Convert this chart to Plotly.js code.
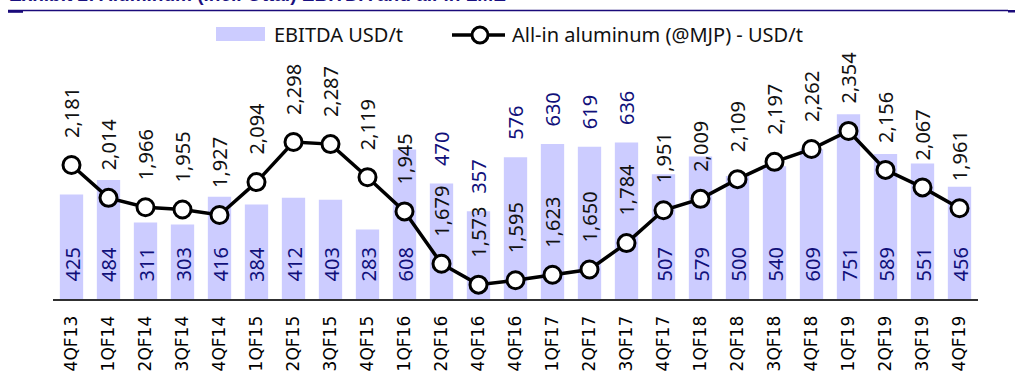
<!DOCTYPE html>
<html>
<head>
<meta charset="utf-8">
<script src="https://cdn.plot.ly/plotly-3.0.1.min.js"></script>
<style>
  html, body { margin: 0; padding: 0; background: #ffffff; }
  #chart { width: 1015px; height: 386px; }
</style>
</head>
<body>
<div id="chart"></div>
<script>
// Quarterly aluminium segment figures
const quarters = ['4QF13', '1QF14', '2QF14', '3QF14', '4QF14', '1QF15', '2QF15', '3QF15', '4QF15',
                  '1QF16', '2QF16', '4QF16', '4QF16', '1QF17', '2QF17', '3QF17', '4QF17',
                  '1QF18', '2QF18', '3QF18', '4QF18', '1QF19', '2QF19', '3QF19', '4QF19'];
const ebitdaPerTonne = [425, 484, 311, 303, 416, 384, 412, 403, 283, 608, 470, 357, 576,
                        630, 619, 636, 507, 579, 500, 540, 609, 751, 589, 551, 456];
const allInAluminum = [2181, 2014, 1966, 1955, 1927, 2094, 2298, 2287, 2119, 1945, 1679, 1573, 1595,
                       1623, 1650, 1784, 1951, 2009, 2109, 2197, 2262, 2354, 2156, 2067, 1961];

const seriesNames = ['EBITDA USD/t', 'All-in aluminum (@MJP) - USD/t'];
const heading = 'Exhibit 2: Aluminum (incl. Ottal) EBITDA and all-in LME';

// Page geometry
const W = 1015, H = 386;
const M = { l: 53, r: 37, t: 53, b: 87 };
const plotW = W - M.l - M.r, plotH = H - M.t - M.b;
const px = x => (x - M.l) / plotW;       // page pixel -> paper x
const py = y => (H - M.b - y) / plotH;   // page pixel -> paper y

const BAR_COLOR = '#CCCCFF';
const NAVY = '#10107a';
const TEXT = '#111111';
const LABEL_FONT = 'Noto Sans, Open Sans, sans-serif';

const pos = quarters.map((_, i) => i);
const fmt = v => v.toLocaleString('en-US');

const bars = {
  type: 'bar',
  x: pos,
  y: ebitdaPerTonne,
  yaxis: 'y',
  marker: { color: BAR_COLOR, line: { width: 0 } },
  hoverinfo: 'skip',
  showlegend: false
};

const line = {
  type: 'scatter',
  mode: 'lines+markers',
  x: pos,
  y: allInAluminum,
  yaxis: 'y2',
  line: { color: '#000000', width: 3.5 },
  marker: { size: 17, color: '#ffffff', line: { color: '#000000', width: 3 } },
  cliponaxis: false,
  hoverinfo: 'skip',
  showlegend: false
};

const annotations = [];

// Price labels above each marker
allInAluminum.forEach((v, i) => {
  annotations.push({
    x: i, y: v, xref: 'x', yref: 'y2',
    text: fmt(v), showarrow: false, textangle: -90,
    xanchor: 'center', yanchor: 'bottom', yshift: 25,
    font: { family: LABEL_FONT, size: 20, color: TEXT }
  });
});

// EBITDA labels: at the bar base, or above the bar where the line runs low
ebitdaPerTonne.forEach((v, i) => {
  const above = allInAluminum[i] < 1800;
  annotations.push({
    x: i, y: above ? v : 0, xref: 'x', yref: 'y',
    text: String(v), showarrow: false, textangle: -90,
    xanchor: 'center', yanchor: 'bottom', yshift: 15,
    font: { family: LABEL_FONT, size: 20, color: NAVY }
  });
});

// Legend text
annotations.push({
  x: px(272), y: py(34.5), xref: 'paper', yref: 'paper',
  text: seriesNames[0], showarrow: false, xanchor: 'left', yanchor: 'middle',
  font: { family: LABEL_FONT, size: 20, color: TEXT }
});
annotations.push({
  x: px(510), y: py(34.5), xref: 'paper', yref: 'paper',
  text: seriesNames[1], showarrow: false, xanchor: 'left', yanchor: 'middle',
  font: { family: LABEL_FONT, size: 20, color: TEXT }
});

// Heading running off the top edge
annotations.push({
  x: px(7), y: py(7.3), xref: 'paper', yref: 'paper',
  text: '<b>' + heading + '</b>', showarrow: false, xanchor: 'left', yanchor: 'bottom',
  font: { family: 'Liberation Sans, Arial, sans-serif', size: 19, color: '#1a1080' }
});

const shapes = [
  // rule under the heading
  { type: 'line', xref: 'paper', yref: 'paper', x0: px(8), x1: px(1008), y0: py(10.5), y1: py(10.5),
    line: { color: '#1a0a7a', width: 1.3 } },
  { type: 'rect', xref: 'paper', yref: 'paper', x0: px(8), x1: px(23), y0: py(10), y1: py(12.8),
    fillcolor: '#1a0a7a', line: { width: 0 } },
  { type: 'rect', xref: 'paper', yref: 'paper', x0: px(1008), x1: px(1015), y0: py(10), y1: py(12.5),
    fillcolor: '#1a0a7a', line: { width: 0 } },
  // legend swatches
  { type: 'rect', xref: 'paper', yref: 'paper', x0: px(216), x1: px(265), y0: py(41), y1: py(27),
    fillcolor: BAR_COLOR, line: { width: 0 } },
  { type: 'line', xref: 'paper', yref: 'paper', x0: px(452), x1: px(505), y0: py(35), y1: py(35),
    line: { color: '#000000', width: 3.5 } },
  { type: 'circle', xref: 'paper', yref: 'paper', x0: px(472), x1: px(488), y0: py(43), y1: py(27),
    fillcolor: '#ffffff', line: { color: '#000000', width: 3 } }
];

const layout = {
  width: W, height: H,
  margin: M,
  paper_bgcolor: '#ffffff',
  plot_bgcolor: 'rgba(0,0,0,0)',
  bargap: 0.37,
  showlegend: false,
  xaxis: {
    range: [-0.5, quarters.length - 0.5],
    tickmode: 'array', tickvals: pos, ticktext: quarters,
    tickangle: -90,
    tickfont: { family: 'DejaVu Sans, Verdana, sans-serif', size: 17, color: '#000000' },
    ticks: '', ticklabelstandoff: 8,
    showline: true, linecolor: '#303030', linewidth: 2,
    showgrid: false, zeroline: false, fixedrange: true
  },
  yaxis: { range: [0, 1000], visible: false, fixedrange: true },
  yaxis2: { range: [1500, 2750], overlaying: 'y', visible: false, fixedrange: true },
  annotations: annotations,
  shapes: shapes
};

Plotly.newPlot('chart', [bars, line], layout, { displayModeBar: false, staticPlot: true });
</script>
</body>
</html>
